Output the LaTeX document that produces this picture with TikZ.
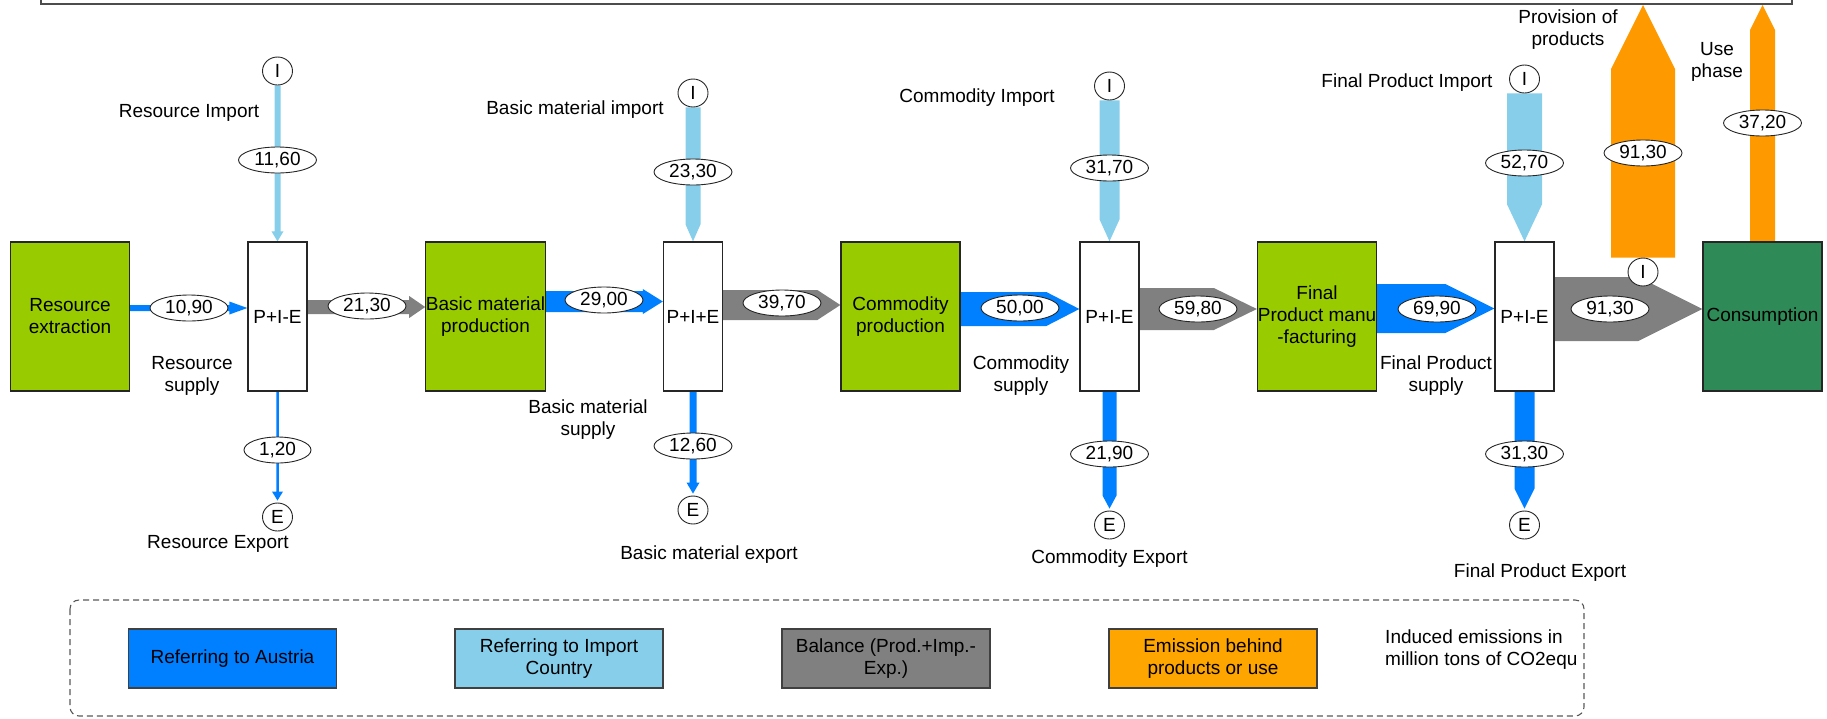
\documentclass[tikz,border=0pt]{standalone}
\usepackage{fontspec}
\setmainfont{Liberation Sans}
\usetikzlibrary{calc,shapes.geometric,backgrounds}

\definecolor{austria}{RGB}{0,128,255}
\definecolor{importc}{RGB}{135,206,235}
\definecolor{balance}{RGB}{128,128,128}
\definecolor{emission}{RGB}{255,153,0}
\definecolor{legorange}{RGB}{255,165,0}
\definecolor{procgreen}{RGB}{153,204,0}
\definecolor{consgreen}{RGB}{46,139,87}

\newcommand\diagfont{\fontsize{19}{22}\selectfont}

% block arrow to the right: from, to, y offset, body width, head width, head length, colour
\newcommand\flowright[7]{%
  \fill[#7] let \p1=([yshift=#3]#1.east), \p2=([yshift=#3]#2.west) in
    (\x1,{\y1+#4/2}) -- ({\x2-#6},{\y1+#4/2}) -- ({\x2-#6},{\y1+#5/2}) -- (\x2,\y1)
    -- ({\x2-#6},{\y1-#5/2}) -- ({\x2-#6},{\y1-#4/2}) -- (\x1,{\y1-#4/2}) -- cycle;}
% block arrow downwards: from, to, body width, head width, head length, colour
\newcommand\flowdown[6]{%
  \fill[#6] let \p1=(#1), \p2=(#2) in
    ({\x1-#3/2},\y1) -- ({\x1-#3/2},{\y2+#5}) -- ({\x1-#4/2},{\y2+#5}) -- (\x1,\y2)
    -- ({\x1+#4/2},{\y2+#5}) -- ({\x1+#3/2},{\y2+#5}) -- ({\x1+#3/2},\y1) -- cycle;}
% block arrow upwards: from, to, body width, head width, head length, colour
\newcommand\flowup[6]{%
  \fill[#6] let \p1=(#1), \p2=(#2) in
    ({\x1-#3/2},\y1) -- ({\x1-#3/2},{\y2-#5}) -- ({\x1-#4/2},{\y2-#5}) -- (\x1,\y2)
    -- ({\x1+#4/2},{\y2-#5}) -- ({\x1+#3/2},{\y2-#5}) -- ({\x1+#3/2},\y1) -- cycle;}

\tikzset{
  every node/.style={font=\diagfont, text=black},
  proc/.style={draw=black!85, line width=1.3pt, fill=procgreen, minimum width=119pt,
    minimum height=149pt, inner sep=0pt, align=center},
  bal/.style={draw=black!85, line width=1.3pt, fill=white, minimum width=59pt,
    minimum height=149pt, inner sep=0pt},
  val/.style={ellipse, draw=black!85, line width=0.9pt, fill=white, minimum width=78pt,
    minimum height=26pt, inner sep=0pt},
  port/.style={ellipse, draw=black!85, line width=0.9pt, fill=white, minimum width=30pt,
    minimum height=28pt, inner sep=0pt},
  txt/.style={align=center, inner sep=0pt},
  leg/.style={draw=black!75, line width=1.3pt, minimum width=208pt, minimum height=59pt,
    align=center, inner sep=0pt},
  legframe/.style={draw=black!65, line width=1.1pt, dash pattern=on 6pt off 4pt, rounded corners=9pt},
  topframe/.style={draw=black!70, line width=1.5pt},
}

\begin{document}
\begin{tikzpicture}[x=1pt,y=-1pt]
\useasboundingbox (0,0) rectangle (1827,718);

% frame above the chain
\draw[topframe] (41,0) -- (41,4) -- (1792,4) -- (1792,0);

% process chain
\node[proc] (RE) at (70,316.5) {Resource\\extraction};
\node[bal] (P1) at (277.5,316.5) {P+I-E};
\node[proc] (BMP) at (485.5,316.5) {Basic material\\production};
\node[bal] (P2) at (693,316.5) {P+I+E};
\node[proc] (CP) at (900.5,316.5) {Commodity\\production};
\node[bal] (P3) at (1109.5,316.5) {P+I-E};
\node[proc] (FPM) at (1317,316.5) {Final\\Product manu\\-facturing};
\node[bal] (P4) at (1524.5,316.5) {P+I-E};
\node[proc, fill=consgreen] (CONS) at (1762.5,316.5) {Consumption};

% import and export ports
\node[port] (I1) at (277.5,71) {I};
\node[port] (I2) at (693,93) {I};
\node[port] (I3) at (1109.5,86) {I};
\node[port] (I4) at (1524.5,79) {I};
\node[port] (I5) at (1643,272) {I};
\node[port] (E1) at (277.5,517) {E};
\node[port] (E2) at (693,510) {E};
\node[port] (E3) at (1109.5,525) {E};
\node[port] (E4) at (1524.5,525) {E};
\coordinate (T1) at (1643,5);
\coordinate (T2) at (1762.5,5);

\begin{scope}[on background layer]
  % domestic and balance flows along the chain
  \flowright{RE}{P1}{8.5pt}{6pt}{13pt}{18pt}{austria}
  \flowright{P1}{BMP}{9.5pt}{14pt}{22pt}{16pt}{balance}
  \flowright{BMP}{P2}{15pt}{21pt}{25pt}{20pt}{austria}
  \flowright{P2}{CP}{11.5pt}{30pt}{30pt}{23pt}{balance}
  \flowright{CP}{P3}{7.5pt}{34pt}{34pt}{33pt}{austria}
  \flowright{P3}{FPM}{7.5pt}{42pt}{42pt}{43pt}{balance}
  \flowright{FPM}{P4}{8pt}{49pt}{49pt}{49pt}{austria}
  \flowright{P4}{CONS}{7.5pt}{64pt}{64pt}{64pt}{balance}
  % imports
  \flowdown{I1.south}{P1.north}{6pt}{12pt}{10pt}{importc}
  \flowdown{I2.south}{P2.north}{15pt}{15pt}{17pt}{importc}
  \flowdown{I3.south}{P3.north}{20pt}{20pt}{22pt}{importc}
  \flowdown{I4.south}{P4.north}{35pt}{35pt}{37pt}{importc}
  % exports
  \flowdown{P1.south}{[yshift=2pt]E1.north}{2.5pt}{11pt}{9pt}{austria}
  \flowdown{P2.south}{[yshift=2pt]E2.north}{7pt}{13pt}{11pt}{austria}
  \flowdown{P3.south}{[yshift=2pt]E3.north}{14pt}{14pt}{13pt}{austria}
  \flowdown{P4.south}{[yshift=2pt]E4.north}{20pt}{20pt}{20pt}{austria}
  % emissions
  \flowup{I5.north}{T1}{64pt}{64pt}{64pt}{emission}
  \flowup{CONS.north}{T2}{25pt}{25pt}{25pt}{emission}
\end{scope}

% flow values
\node[val] (v1) at (277.5,160) {11,60};
\node[val] (v2) at (189,308) {10,90};
\node[val, minimum width=67pt] (v3) at (277.5,450) {1,20};
\node[val] (v4) at (367,306) {21,30};
\node[val] (v5) at (604,300) {29,00};
\node[val] (v6) at (693,172) {23,30};
\node[val] (v7) at (693,446) {12,60};
\node[val] (v8) at (782,303) {39,70};
\node[val] (v9) at (1020,308) {50,00};
\node[val] (v10) at (1109.5,168) {31,70};
\node[val] (v11) at (1109.5,454) {21,90};
\node[val] (v12) at (1198,309) {59,80};
\node[val] (v13) at (1437,309) {69,90};
\node[val] (v14) at (1524.5,163) {52,70};
\node[val] (v15) at (1524.5,454) {31,30};
\node[val] (v16) at (1610,309) {91,30};
\node[val] (v17) at (1643,153) {91,30};
\node[val] (v18) at (1762.5,123) {37,20};

% flow names
\node[txt] (n1) at (189,113) {Resource Import};
\node[txt] (n2) at (192,376) {Resource\\supply};
\node[txt] (n3) at (218,544) {Resource Export};
\node[txt] (n4) at (575,110) {Basic material import};
\node[txt] (n5) at (588,420) {Basic material\\supply};
\node[txt] (n6) at (709,555) {Basic material export};
\node[txt] (n7) at (977,98) {Commodity Import};
\node[txt] (n8) at (1021,376) {Commodity\\supply};
\node[txt] (n9) at (1109.5,559) {Commodity Export};
\node[txt] (n10) at (1407,83) {Final Product Import};
\node[txt] (n11) at (1436,376) {Final Product\\supply};
\node[txt] (n12) at (1540,573) {Final Product Export};
\node[txt] (n13) at (1568,30) {Provision of\\products};
\node[txt] (n14) at (1717,62) {Use\\phase};

% legend
\draw[legframe] (70,600) rectangle (1584,716);
\node[leg, fill=austria] (k1) at (232.5,658.5) {Referring to Austria};
\node[leg, fill=importc] (k2) at (559,658.5) {Referring to Import\\Country};
\node[leg, fill=balance] (k3) at (886,658.5) {Balance (Prod.+Imp.-\\Exp.)};
\node[leg, fill=legorange] (k4) at (1213,658.5) {Emission behind\\products or use};
\node[txt, anchor=west, align=left] (k5) at (1385,650) {Induced emissions in\\million tons of CO2equ};
\end{tikzpicture}
\end{document}
